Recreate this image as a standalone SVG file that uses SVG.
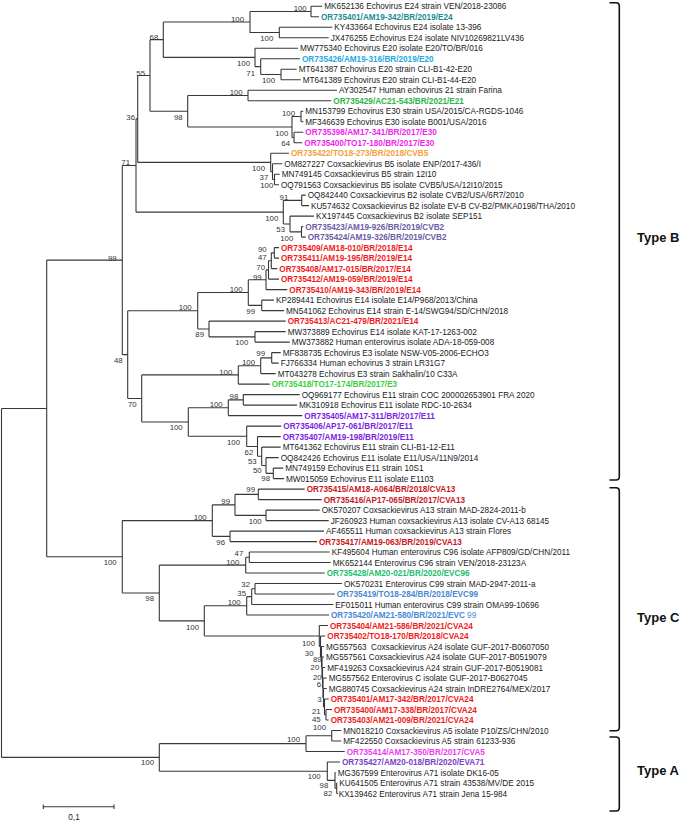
<svg xmlns="http://www.w3.org/2000/svg" width="687" height="821" viewBox="0 0 687 821">
<style>
text{font-family:"Liberation Sans",Arial,sans-serif}
.t{font-size:8.2px;fill:#1a1a1a}
.b{font-size:8.2px;font-weight:bold}
.bs{font-size:7.8px;fill:#333;text-anchor:end}
.e path{fill:none;stroke:#383838;stroke-width:1.1}
.br{fill:none;stroke:#111;stroke-width:1.6}
.ty{font-size:13px;font-weight:bold;fill:#111}
.teal{fill:#1b8d8f}.sky{fill:#28a8e3}.grn{fill:#2cb34a}.mag{fill:#f01ff0}.org{fill:#f5a03c}
.pur{fill:#6c5ca6}.red{fill:#f01c1c}.lgr{fill:#3ccf3c}.vio{fill:#7b24e3}.dred{fill:#c8161d}
.c96{fill:#20c06d}.blu{fill:#4a88d3}.mag2{fill:#ec3cec}.pur2{fill:#7a40c8}
</style>
<rect width="687" height="821" fill="#fff"/>
<g id="connectors" class="e">
<path d="M1.5 408.44V757.41M1.5 408.44H46.7M1.5 757.41H159.3"/>
<path d="M46.7 260.08V556.8M46.7 260.08H122.3M46.7 556.8H122.3"/>
<path d="M122.3 165.54V354.61M122.3 165.54H136M122.3 354.61H127.7"/>
<path d="M136 118.92V212.17M136 118.92H137.7M136 212.17H283.3"/>
<path d="M137.7 75.44V162.39M137.7 75.44H150M137.7 162.39H270.7"/>
<path d="M150 39.67V111.2M150 39.67H163.3M150 111.2H187.7"/>
<path d="M163.3 21.95V57.39M163.3 21.95H250M163.3 57.39H255"/>
<path d="M250 11.45V32.45H279.3M250 11.45H311"/>
<path d="M311 6.2V16.7M311 6.2H322.3M311 16.7H319"/>
<path d="M279.3 27.2V37.7M279.3 27.2H332.3M279.3 37.7H328.7"/>
<path d="M255 48.2V66.58M255 48.2H298M255 66.58H260.7"/>
<path d="M260.7 58.7V74.45M260.7 58.7H300M260.7 74.45H281"/>
<path d="M281 69.2V79.7M281 69.2H296.7M281 79.7H300.7"/>
<path d="M187.7 95.45V126.95M187.7 95.45H248M187.7 126.95H292"/>
<path d="M248 90.2V100.7M248 90.2H337M248 100.7H331.3"/>
<path d="M292 116.45V137.45M292 116.45H301M292 137.45H294"/>
<path d="M301 111.2V121.7M301 111.2H303.3M301 121.7H303.3"/>
<path d="M294 132.2V142.7M294 132.2H303.3M294 142.7H302.3"/>
<path d="M270.7 153.2V171.58M270.7 153.2H289M270.7 171.58H272.5"/>
<path d="M272.5 163.7V179.45M272.5 163.7H282.3M272.5 179.45H274.5"/>
<path d="M274.5 174.2V184.7M274.5 174.2H279.7M274.5 184.7H279"/>
<path d="M283.3 200.35V223.98M283.3 200.35H301.7M283.3 223.98H290"/>
<path d="M301.7 195.1V205.6M301.7 195.1H305.7M301.7 205.6H309"/>
<path d="M290 216.1V231.85M290 216.1H314M290 231.85H301.5"/>
<path d="M301.5 226.6V237.1M301.5 226.6H303.3M301.5 237.1H305.7"/>
<path d="M127.7 310.76V398.46M127.7 310.76H197.7M127.7 398.46H141.7"/>
<path d="M197.7 292.55V328.98M197.7 292.55H248.3M197.7 328.98H209"/>
<path d="M248.3 279.76V305.35M248.3 279.76H266M248.3 305.35H261.7"/>
<path d="M266 269.91V289.6M266 269.91H268.5M266 289.6H287.3"/>
<path d="M268.5 260.73V279.1M268.5 260.73H271.3M268.5 279.1H279"/>
<path d="M271.3 252.85V268.6M271.3 252.85H274.3M271.3 268.6H277.3"/>
<path d="M274.3 247.6V258.1M274.3 247.6H279M274.3 258.1H279"/>
<path d="M261.7 300.1V310.6M261.7 300.1H274M261.7 310.6H284"/>
<path d="M209 321.1V336.85M209 321.1H285.7M209 336.85H255"/>
<path d="M255 331.6V342.1M255 331.6H285.7M255 342.1H289.7"/>
<path d="M141.7 374.91V422M141.7 374.91H238.3M141.7 422H188.3"/>
<path d="M238.3 365.73V384.1M238.3 365.73H260.7M238.3 384.1H269.7"/>
<path d="M260.7 357.85V373.6M260.7 357.85H271.7M260.7 373.6H275.7"/>
<path d="M271.7 352.6V363.1M271.7 352.6H280.7M271.7 363.1H278.7"/>
<path d="M188.3 407.73V436.27M188.3 407.73H228.3M188.3 436.27H246.7"/>
<path d="M228.3 399.85V415.6M228.3 399.85H243.3M228.3 415.6H302.3"/>
<path d="M243.3 394.6V405.1M243.3 394.6H299.7M243.3 405.1H297"/>
<path d="M246.7 426.1V446.45M246.7 426.1H281.3M246.7 446.45H257.5"/>
<path d="M257.5 436.6V456.29M257.5 436.6H280.7M257.5 456.29H261.7"/>
<path d="M261.7 447.1V465.48M261.7 447.1H280.7M261.7 465.48H266"/>
<path d="M266 457.6V473.35M266 457.6H278.7M266 473.35H273.3"/>
<path d="M273.3 468.1V478.6M273.3 468.1H283.3M273.3 478.6H284"/>
<path d="M122.3 520.6V593M122.3 520.6H212.3M122.3 593H159.3"/>
<path d="M212.3 504.85V536.35M212.3 504.85H235M212.3 536.35H230"/>
<path d="M235 494.35V515.35M235 494.35H258.3M235 515.35H266"/>
<path d="M258.3 489.1V499.6M258.3 489.1H304.7M258.3 499.6H321.7"/>
<path d="M266 510.1V520.6M266 510.1H319.7M266 520.6H328.7"/>
<path d="M230 531.1V541.6M230 531.1H324M230 541.6H317"/>
<path d="M159.3 565.13V620.9M159.3 565.13H245.7M159.3 620.9H204.3"/>
<path d="M245.7 557.25V573M245.7 557.25H249.3M245.7 573H324.7"/>
<path d="M249.3 552V562.5M249.3 552H329.7M249.3 562.5H330.7"/>
<path d="M204.3 605.81V635.98M204.3 605.81H246.7M204.3 635.98H319.3"/>
<path d="M246.7 596.63V615M246.7 596.63H251.7M246.7 615H329"/>
<path d="M251.7 588.75V604.5M251.7 588.75H255M251.7 604.5H333.3"/>
<path d="M255 583.5V594M255 583.5H342M255 594H334.7"/>
<path d="M319.3 625.5V646.46M319.3 625.5H328M319.3 646.46H320.5"/>
<path d="M320.5 636V656.92M320.5 636H325.3M320.5 656.92H321.5"/>
<path d="M321.5 646.5V667.34M321.5 646.5H324M321.5 667.34H322"/>
<path d="M322 657V677.68M322 657H324M322 677.68H322.5"/>
<path d="M322.5 667.5V687.85M322.5 667.5H325.3M322.5 687.85H323"/>
<path d="M323 678V697.69M323 678H326.7M323 697.69H323.5"/>
<path d="M323.5 688.5V706.88M323.5 688.5H326.7M323.5 706.88H324.5"/>
<path d="M324.5 699V714.75M324.5 699H328.7M324.5 714.75H326"/>
<path d="M326 709.5V720M326 709.5H332M326 720H328.7"/>
<path d="M159.3 743.63V771.19M159.3 743.63H306M159.3 771.19H327.3"/>
<path d="M306 735.75V751.5M306 735.75H331.7M306 751.5H344.7"/>
<path d="M331.7 730.5V741M331.7 730.5H341.3M331.7 741H341.3"/>
<path d="M327.3 762V780.38M327.3 762H340M327.3 780.38H335"/>
<path d="M335 772.5V788.25M335 772.5H335.7M335 788.25H336.7"/>
<path d="M336.7 783V793.5M336.7 783H337.3M336.7 793.5H338"/>
</g>
<g id="leaves">
<g id="leaf-MK652136"><text class="t" x="324.3" y="9.2">MK652136 Echovirus E24 strain VEN/2018-23086</text></g>
<g id="leaf-OR735401-E24"><text class="b teal" x="321" y="19.7">OR735401/AM19-342/BR/2019/E24</text></g>
<g id="leaf-KY433664"><text class="t" x="334.3" y="30.2">KY433664 Echovirus E24 isolate 13-396</text></g>
<g id="leaf-JX476255"><text class="t" x="330.7" y="40.7">JX476255 Echovirus E24 isolate NIV10269821LV436</text></g>
<g id="leaf-MW775340"><text class="t" x="300" y="51.2">MW775340 Echovirus E20 isolate E20/TO/BR/016</text></g>
<g id="leaf-OR735426"><text class="b sky" x="302" y="61.7">OR735426/AM19-316/BR/2019/E20</text></g>
<g id="leaf-MT641387"><text class="t" x="298.7" y="72.2">MT641387 Echovirus E20 strain CLI-B1-42-E20</text></g>
<g id="leaf-MT641389"><text class="t" x="302.7" y="82.7">MT641389 Echovirus E20 strain CLI-B1-44-E20</text></g>
<g id="leaf-AY302547"><text class="t" x="339" y="93.2">AY302547 Human echovirus 21 strain Farina</text></g>
<g id="leaf-OR735429"><text class="b grn" x="333.3" y="103.7">OR735429/AC21-543/BR/2021/E21</text></g>
<g id="leaf-MN153799"><text class="t" x="305.3" y="114.2">MN153799 Echovirus E30 strain USA/2015/CA-RGDS-1046</text></g>
<g id="leaf-MF346639"><text class="t" x="305.3" y="124.7">MF346639 Echovirus E30 isolate B001/USA/2016</text></g>
<g id="leaf-OR735398"><text class="b mag" x="305.3" y="135.2">OR735398/AM17-341/BR/2017/E30</text></g>
<g id="leaf-OR735400-E30"><text class="b mag" x="304.3" y="145.7">OR735400/TO17-180/BR/2017/E30</text></g>
<g id="leaf-OR735422"><text class="b org" x="291" y="156.2">OR735422/TO18-273/BR/2018/CVB5</text></g>
<g id="leaf-OM827227"><text class="t" x="284.3" y="166.7">OM827227 Coxsackievirus B5 isolate ENP/2017-436/I</text></g>
<g id="leaf-MN749145"><text class="t" x="281.7" y="177.2">MN749145 Coxsackievirus B5 strain 12I10</text></g>
<g id="leaf-OQ791563"><text class="t" x="281" y="187.7">OQ791563 Coxsackievirus B5 isolate CVB5/USA/12I10/2015</text></g>
<g id="leaf-OQ842440"><text class="t" x="307.7" y="198.1">OQ842440 Coxsackievirus B2 isolate CVB2/USA/6R7/2010</text></g>
<g id="leaf-KU574632"><text class="t" x="311" y="208.6">KU574632 Coxsackievirus B2 isolate EV-B CV-B2/PMKA0198/THA/2010</text></g>
<g id="leaf-KX197445"><text class="t" x="316" y="219.1">KX197445 Coxsackievirus B2 isolate SEP151</text></g>
<g id="leaf-OR735423"><text class="b pur" x="305.3" y="229.6">OR735423/AM19-926/BR/2019/CVB2</text></g>
<g id="leaf-OR735424"><text class="b pur" x="307.7" y="240.1">OR735424/AM19-326/BR/2019/CVB2</text></g>
<g id="leaf-OR735409"><text class="b red" x="281" y="250.6">OR735409/AM18-010/BR/2018/E14</text></g>
<g id="leaf-OR735411"><text class="b red" x="281" y="261.1">OR735411/AM19-195/BR/2019/E14</text></g>
<g id="leaf-OR735408"><text class="b red" x="279.3" y="271.6">OR735408/AM17-015/BR/2017/E14</text></g>
<g id="leaf-OR735412"><text class="b red" x="281" y="282.1">OR735412/AM19-059/BR/2019/E14</text></g>
<g id="leaf-OR735410"><text class="b red" x="289.3" y="292.6">OR735410/AM19-343/BR/2019/E14</text></g>
<g id="leaf-KP289441"><text class="t" x="276" y="303.1">KP289441 Echovirus E14 isolate E14/P968/2013/China</text></g>
<g id="leaf-MN541062"><text class="t" x="286" y="313.6">MN541062 Echovirus E14 strain E-14/SWG94/SD/CHN/2018</text></g>
<g id="leaf-OR735413"><text class="b red" x="287.7" y="324.1">OR735413/AC21-479/BR/2021/E14</text></g>
<g id="leaf-MW373889"><text class="t" x="287.7" y="334.6">MW373889 Echovirus E14 isolate KAT-17-1263-002</text></g>
<g id="leaf-MW373882"><text class="t" x="291.7" y="345.1">MW373882 Human enterovirus isolate ADA-18-059-008</text></g>
<g id="leaf-MF838735"><text class="t" x="282.7" y="355.6">MF838735 Echovirus E3 isolate NSW-V05-2006-ECHO3</text></g>
<g id="leaf-FJ766334"><text class="t" x="280.7" y="366.1">FJ766334 Human echovirus 3 strain LR31G7</text></g>
<g id="leaf-MT043278"><text class="t" x="277.7" y="376.6">MT043278 Echovirus E3 strain Sakhalin/10 C33A</text></g>
<g id="leaf-OR735418"><text class="b lgr" x="271.7" y="387.1">OR735418/TO17-174/BR/2017/E3</text></g>
<g id="leaf-OQ969177"><text class="t" x="301.7" y="397.6">OQ969177 Echovirus E11 strain COC 200002653901 FRA 2020</text></g>
<g id="leaf-MK310918"><text class="t" x="299" y="408.1">MK310918 Echovirus E11 isolate RDC-10-2634</text></g>
<g id="leaf-OR735405"><text class="b vio" x="304.3" y="418.6">OR735405/AM17-311/BR/2017/E11</text></g>
<g id="leaf-OR735406"><text class="b vio" x="283.3" y="429.1">OR735406/AP17-061/BR/2017/E11</text></g>
<g id="leaf-OR735407"><text class="b vio" x="282.7" y="439.6">OR735407/AM19-198/BR/2019/E11</text></g>
<g id="leaf-MT641362"><text class="t" x="282.7" y="450.1">MT641362 Echovirus E11 strain CLI-B1-12-E11</text></g>
<g id="leaf-OQ842426"><text class="t" x="280.7" y="460.6">OQ842426 Echovirus E11 isolate E11/USA/11N9/2014</text></g>
<g id="leaf-MN749159"><text class="t" x="285.3" y="471.1">MN749159 Echovirus E11 strain 10S1</text></g>
<g id="leaf-MW015059"><text class="t" x="286" y="481.6">MW015059 Echovirus E11 isolate E1103</text></g>
<g id="leaf-OR735415"><text class="b dred" x="306.7" y="492.1">OR735415/AM18-A064/BR/2018/CVA13</text></g>
<g id="leaf-OR735416"><text class="b dred" x="323.7" y="502.6">OR735416/AP17-065/BR/2017/CVA13</text></g>
<g id="leaf-OK570207"><text class="t" x="321.7" y="513.1">OK570207 Coxsackievirus A13 strain MAD-2824-2011-b</text></g>
<g id="leaf-JF260923"><text class="t" x="330.7" y="523.6">JF260923 Human coxsackievirus A13 isolate CV-A13 68145</text></g>
<g id="leaf-AF465511"><text class="t" x="326" y="534.1">AF465511 Human coxsackievirus A13 strain Flores</text></g>
<g id="leaf-OR735417"><text class="b dred" x="319" y="544.6">OR735417/AM19-063/BR/2019/CVA13</text></g>
<g id="leaf-KF495604"><text class="t" x="331.7" y="555">KF495604 Human enterovirus C96 isolate AFP809/GD/CHN/2011</text></g>
<g id="leaf-MK652144"><text class="t" x="332.7" y="565.5">MK652144 Enterovirus C96 strain VEN/2018-23123A</text></g>
<g id="leaf-OR735428"><text class="b c96" x="326.7" y="576">OR735428/AM20-021/BR/2020/EVC96</text></g>
<g id="leaf-OK570231"><text class="t" x="344" y="586.5">OK570231 Enterovirus C99 strain MAD-2947-2011-a</text></g>
<g id="leaf-OR735419"><text class="b blu" x="336.7" y="597">OR735419/TO18-284/BR/2018/EVC99</text></g>
<g id="leaf-EF015011"><text class="t" x="335.3" y="607.5">EF015011 Human enterovirus C99 strain OMA99-10696</text></g>
<g id="leaf-OR735420"><text class="b blu" x="331" y="618">OR735420/AM21-580/BR/2021/EVC<tspan font-weight="normal"> 99</tspan></text></g>
<g id="leaf-OR735404"><text class="b red" x="330" y="628.5">OR735404/AM21-586/BR/2021/CVA24</text></g>
<g id="leaf-OR735402"><text class="b red" x="327.3" y="639">OR735402/TO18-170/BR/2018/CVA24</text></g>
<g id="leaf-MG557563"><text class="t" x="326" y="649.5" style="white-space:pre">MG557563  Coxsackievirus A24 isolate GUF-2017-B0607050</text></g>
<g id="leaf-MG557561"><text class="t" x="326" y="660">MG557561 Coxsackievirus A24 isolate GUF-2017-B0519079</text></g>
<g id="leaf-MF419263"><text class="t" x="327.3" y="670.5">MF419263 Coxsackievirus A24 strain GUF-2017-B0519081</text></g>
<g id="leaf-MG557562"><text class="t" x="328.7" y="681">MG557562 Enterovirus C isolate GUF-2017-B0627045</text></g>
<g id="leaf-MG880745"><text class="t" x="328.7" y="691.5">MG880745 Coxsackievirus A24 strain InDRE2764/MEX/2017</text></g>
<g id="leaf-OR735401-CVA24"><text class="b red" x="330.7" y="702">OR735401/AM17-342/BR/2017/CVA24</text></g>
<g id="leaf-OR735400-CVA24"><text class="b red" x="334" y="712.5">OR735400/AM17-338/BR/2017/CVA24</text></g>
<g id="leaf-OR735403"><text class="b red" x="330.7" y="723">OR735403/AM21-009/BR/2021/CVA24</text></g>
<g id="leaf-MN018210"><text class="t" x="343.3" y="733.5">MN018210 Coxsackievirus A5 isolate P10/ZS/CHN/2010</text></g>
<g id="leaf-MF422550"><text class="t" x="343.3" y="744">MF422550 Coxsackievirus A5 strain 61233-936</text></g>
<g id="leaf-OR735414"><text class="b mag2" x="346.7" y="754.5">OR735414/AM17-350/BR/2017/CVA5</text></g>
<g id="leaf-OR735427"><text class="b pur2" x="342" y="765">OR735427/AM20-018/BR/2020/EVA71</text></g>
<g id="leaf-MG367599"><text class="t" x="337.7" y="775.5">MG367599 Enterovirus A71 isolate DK16-05</text></g>
<g id="leaf-KU641505"><text class="t" x="339.3" y="786">KU641505 Enterovirus A71 strain 43538/MV/DE 2015</text></g>
<g id="leaf-KX139462"><text class="t" x="338.7" y="796.5">KX139462 Enterovirus A71 strain Jena 15-984</text></g>
</g>
<g id="bootstrap">
<text class="bs" x="306.7" y="11">100</text>
<text class="bs" x="244" y="22.3">100</text>
<text class="bs" x="273.3" y="40.5">100</text>
<text class="bs" x="158.3" y="39.8">68</text>
<text class="bs" x="145" y="75.5">55</text>
<text class="bs" x="135" y="119.5">36</text>
<text class="bs" x="130" y="165.1">71</text>
<text class="bs" x="116.7" y="260.5">99</text>
<text class="bs" x="250" y="66.1">100</text>
<text class="bs" x="255" y="75.5">71</text>
<text class="bs" x="275" y="82.8">100</text>
<text class="bs" x="242.7" y="95.1">100</text>
<text class="bs" x="182.7" y="120.1">98</text>
<text class="bs" x="295" y="116.1">100</text>
<text class="bs" x="288.3" y="136.1">100</text>
<text class="bs" x="290" y="146.1">64</text>
<text class="bs" x="265" y="171.1">100</text>
<text class="bs" x="268.3" y="179.5">37</text>
<text class="bs" x="273.3" y="187.8">100</text>
<text class="bs" x="288.3" y="200.1">91</text>
<text class="bs" x="278.3" y="221.1">100</text>
<text class="bs" x="285" y="232.3">53</text>
<text class="bs" x="293.3" y="240.6">100</text>
<text class="bs" x="266.7" y="252.1">90</text>
<text class="bs" x="266.7" y="259.5">47</text>
<text class="bs" x="265" y="269.5">70</text>
<text class="bs" x="261.7" y="279.5">99</text>
<text class="bs" x="242.7" y="292.1">100</text>
<text class="bs" x="255" y="313.5">99</text>
<text class="bs" x="191.7" y="310.1">100</text>
<text class="bs" x="204" y="337.1">89</text>
<text class="bs" x="248.3" y="345.1">100</text>
<text class="bs" x="122.7" y="362.8">48</text>
<text class="bs" x="265" y="356.1">99</text>
<text class="bs" x="255" y="365.1">100</text>
<text class="bs" x="232.3" y="374.5">100</text>
<text class="bs" x="136.7" y="406.8">70</text>
<text class="bs" x="238.3" y="398.8">98</text>
<text class="bs" x="222.7" y="407.1">100</text>
<text class="bs" x="182.7" y="430.1">100</text>
<text class="bs" x="240" y="445.1">100</text>
<text class="bs" x="253.3" y="454.5">62</text>
<text class="bs" x="256.7" y="463.8">53</text>
<text class="bs" x="261.7" y="472.8">50</text>
<text class="bs" x="270" y="481.1">98</text>
<text class="bs" x="255" y="492.3">99</text>
<text class="bs" x="230" y="503.8">99</text>
<text class="bs" x="206.7" y="520.1">100</text>
<text class="bs" x="261.7" y="523.8">100</text>
<text class="bs" x="225" y="544.5">96</text>
<text class="bs" x="116.7" y="565.1">100</text>
<text class="bs" x="239.3" y="564.5">100</text>
<text class="bs" x="243.3" y="556.1">47</text>
<text class="bs" x="154" y="601.1">98</text>
<text class="bs" x="250" y="587.1">32</text>
<text class="bs" x="246" y="596.1">35</text>
<text class="bs" x="240.7" y="605.1">100</text>
<text class="bs" x="199" y="629.5">100</text>
<text class="bs" x="154" y="765.1">100</text>
<text class="bs" x="315" y="646.1">100</text>
<text class="bs" x="313.5" y="655.8">30</text>
<text class="bs" x="321.7" y="661.8">89</text>
<text class="bs" x="319.3" y="670.1">20</text>
<text class="bs" x="321.7" y="680.3">20</text>
<text class="bs" x="321" y="687.3">6</text>
<text class="bs" x="321.7" y="702.1">3</text>
<text class="bs" x="320.7" y="713.5">21</text>
<text class="bs" x="320.7" y="722.1">45</text>
<text class="bs" x="300" y="742.1">100</text>
<text class="bs" x="326" y="729.5">100</text>
<text class="bs" x="320.7" y="778.5">100</text>
<text class="bs" x="328.3" y="787.8">98</text>
<text class="bs" x="332.3" y="796.1">82</text>
</g>
<g id="scale-bar">
<path d="M43.3 806.7H114M43.3 804.5V808.9M114 804.5V808.9" fill="none" stroke="#383838" stroke-width="1.1"/>
<text class="t" x="74" y="819.5" text-anchor="middle">0,1</text>
</g>
<g id="type-B">
<path class="br" d="M609.5 2.7H616Q619.3 2.7 619.3 6V476.7Q619.3 480 616 480H609.5"/>
<text class="ty" x="637" y="242.2">Type B</text>
</g>
<g id="type-C">
<path class="br" d="M609.5 487.8H616Q619.3 487.8 619.3 491.1V727.4Q619.3 730.7 616 730.7H609.5"/>
<text class="ty" x="637" y="622.4">Type C</text>
</g>
<g id="type-A">
<path class="br" d="M609.5 737H616Q619.3 737 619.3 740.3V807.7Q619.3 811 616 811H609.5"/>
<text class="ty" x="637" y="775.1">Type A</text>
</g>
</svg>
